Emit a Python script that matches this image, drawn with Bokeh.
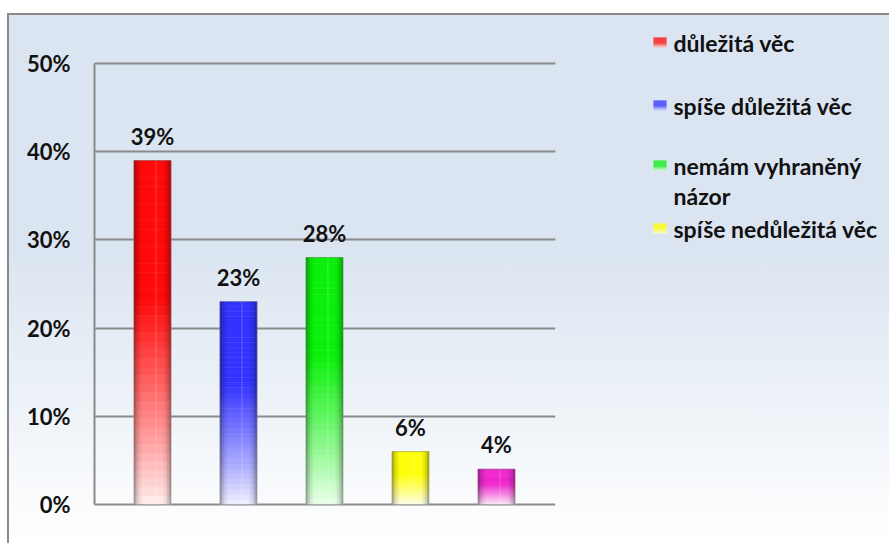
import numpy as np
from bokeh.plotting import figure
from bokeh.layouts import row
from bokeh.models import ColumnDataSource, FixedTicker, NumeralTickFormatter, Range1d
from bokeh.core.properties import value
from bokeh.embed import file_html
from bokeh.resources import INLINE

# ---- data ----
categories = ["důležitá věc", "spíše důležitá věc", "nemám vyhraněný názor",
              "spíše nedůležitá věc", "nedůležitá věc"]
values = [0.39, 0.23, 0.28, 0.06, 0.04]
value_labels = ["39%", "23%", "28%", "6%", "4%"]
colors = ["#ff0a0a", "#3333ff", "#0af00a", "#ffff00", "#ee22cc"]
y_ticks = [0.0, 0.1, 0.2, 0.3, 0.4, 0.5]
legend_lines = [["důležitá věc"], ["spíše důležitá věc"], ["nemám vyhraněný", "názor"],
                ["spíše nedůležitá věc"]]

FONT = "Lato"
FS = "22px"
FS_LEG = "23px"
H = 528
W_PLOT, W_LEG = 600, 280
TOP_PX, BOT_PX = 48, 489          # pixel rows of the 50% and 0% lines
px_per_unit = (BOT_PX - TOP_PX) / (y_ticks[-1] - y_ticks[0])
y_start = y_ticks[0] - (H - BOT_PX) / px_per_unit
y_end = y_ticks[-1] + TOP_PX / px_per_unit


def mix(c, t):
    c = c.lstrip("#")
    r, g, b = (int(c[i:i + 2], 16) for i in (0, 2, 4))
    return "#%02x%02x%02x" % tuple(int(round(255 + (v - 255) * t)) for v in (r, g, b))


p = figure(width=W_PLOT, height=H, output_backend="svg", toolbar_location=None,
           x_range=Range1d(-0.674, 4.686), y_range=Range1d(y_start, y_end),
           min_border_left=85, min_border_right=54, min_border_top=0, min_border_bottom=0)
p.border_fill_alpha = 0
p.background_fill_alpha = 0
p.outline_line_color = None

# ---- gradient bars built from the values ----
N = 40
xs, bots, tops, fills = [], [], [], []
for i, (v, c) in enumerate(zip(values, colors)):
    for k in range(N):
        f0, f1 = k / N, (k + 1) / N
        fm = (f0 + f1) / 2
        t = 0.06 + 0.94 * min(1.0, fm / 0.6) ** 0.9
        xs.append(i)
        bots.append(v * f0)
        tops.append(v * f1)
        fills.append(mix(c, t))
seg = ColumnDataSource(dict(x=xs, bottom=bots, top=tops, color=fills))
bar_w = 0.43
p.vbar(x="x", bottom="bottom", top="top", width=bar_w, fill_color="color",
       line_color="color", line_width=0.5, source=seg)

# cylinder shading: darker strips along both edges, light streak right of centre
sw = 0.022
shade_alpha = [0.30, 0.18, 0.09, 0.04]
sx, stop, sa, sc = [], [], [], []
for i, v in enumerate(values):
    for k, a in enumerate(shade_alpha):
        for side in (-1, 1):
            sx.append(i + side * (bar_w / 2 - (k + 0.5) * sw))
            stop.append(v)
            sa.append(a)
            sc.append("#000000")
    sx.append(i + 0.04)
    stop.append(v)
    sa.append(0.12)
    sc.append("#ffffff")
p.vbar(x="x", top="top", bottom=0, width=sw, fill_color="c", fill_alpha="a",
       line_color=None, source=ColumnDataSource(dict(x=sx, top=stop, a=sa, c=sc)))
edge = ColumnDataSource(dict(x=list(range(len(values))), top=values))
p.vbar(x="x", top="top", bottom=0, width=bar_w, fill_color=None,
       line_color="#707070", line_alpha=0.45, line_width=1, source=edge)

lab = ColumnDataSource(dict(x=list(range(len(values))), y=values, t=value_labels))
p.text(x="x", y="y", text="t", source=lab, y_offset=-11, text_align="center",
       text_baseline="bottom", text_font=value(FONT), text_font_style="bold",
       text_font_size=FS, text_color="#111111")

p.xaxis.visible = False
p.yaxis.ticker = FixedTicker(ticks=y_ticks)
p.yaxis.bounds = (y_ticks[0], y_ticks[-1])
p.yaxis.formatter = NumeralTickFormatter(format="0%")
p.yaxis.axis_line_color = "#8a8a8a"
p.yaxis.axis_line_width = 2
p.yaxis.major_tick_line_color = None
p.yaxis.minor_tick_line_color = None
p.yaxis.major_label_standoff = 18
p.yaxis.major_label_text_font = FONT
p.yaxis.major_label_text_font_style = "bold"
p.yaxis.major_label_text_font_size = FS
p.yaxis.major_label_text_color = "#111111"
p.xgrid.visible = False
p.ygrid.ticker = FixedTicker(ticks=y_ticks)
p.ygrid.grid_line_color = "#8a8a8a"
p.ygrid.grid_line_width = 2

# ---- legend panel (pixel-like coordinates, y downward) ----
q = figure(width=W_LEG, height=H, output_backend="svg", toolbar_location=None,
           x_range=Range1d(0, W_LEG), y_range=Range1d(H, 0),
           min_border=0, outline_line_color=None)
q.border_fill_alpha = 0
q.background_fill_alpha = 0
q.axis.visible = False
q.grid.visible = False

slot_y = [27, 90, 150, 213]
mk_l, mk_r, txt_x, line_gap = 44, 57, 64, 30
mq = dict(left=[], right=[], top=[], bottom=[], color=[])
tx = dict(x=[], y=[], t=[])
for c, lines, y in zip(colors, legend_lines, slot_y):
    steps = 10
    for k in range(steps):
        mq["left"].append(mk_l)
        mq["right"].append(mk_r)
        mq["top"].append(y - 5 + k * 10 / steps)
        mq["bottom"].append(y - 5 + (k + 1) * 10 / steps)
        mq["color"].append(mix(c, 1.0 if k < 6 else 1.0 - (k - 5) * 0.18))
    for j, line in enumerate(lines):
        tx["x"].append(txt_x)
        tx["y"].append(y + line_gap * j)
        tx["t"].append(line)
q.quad(left="left", right="right", top="top", bottom="bottom", fill_color="color",
       line_color=None, source=ColumnDataSource(mq))
q.text(x="x", y="y", text="t", source=ColumnDataSource(tx), text_baseline="middle",
       text_font=value(FONT), text_font_style="bold", text_font_size=FS_LEG,
       text_color="#111111")

layout = row(p, q, spacing=0)
layout.styles = {"margin-left": "7px", "margin-top": "13px",
                 "border-left": "2px solid #8a8a8a", "border-top": "2px solid #8a8a8a",
                 "background": "linear-gradient(to bottom, #dbe5f1 0%, #dbe5f1 45%, #ffffff 100%)"}

open("out.html", "w").write(file_html(layout, INLINE))
